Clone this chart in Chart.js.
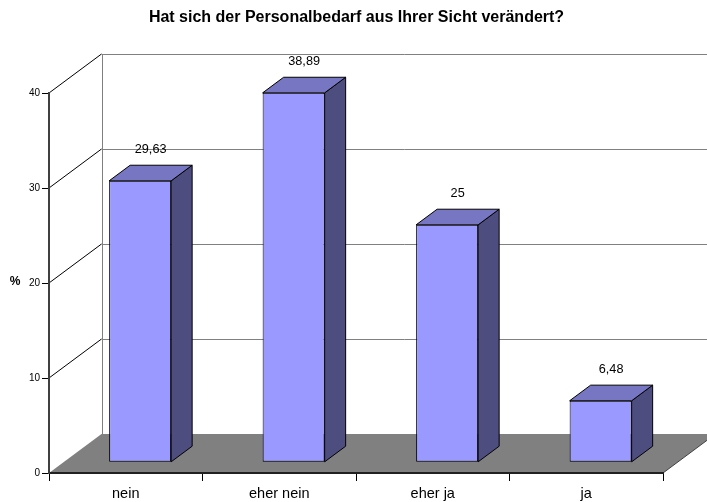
<!DOCTYPE html>
<html>
<head>
<meta charset="utf-8">
<script src="https://cdn.jsdelivr.net/npm/chart.js@4.4.0/dist/chart.umd.min.js"></script>
<style>
  html, body { margin: 0; padding: 0; background: #fff; }
  #wrap { width: 707px; height: 502px; position: relative; }
</style>
</head>
<body>
<div id="wrap"><canvas id="chart"></canvas></div>
<script>
// Daten
const categories = ['nein', 'eher nein', 'eher ja', 'ja'];
const values = [29.63, 38.89, 25, 6.48];
const valueLabels = ['29,63', '38,89', '25', '6,48'];
const yTicks = [0, 10, 20, 30, 40];
const chartTitle = 'Hat sich der Personalbedarf aus Ihrer Sicht verändert?';
const yTitle = '%';

// 3D-Geometrie (Tiefe der Wand, Lage der Säulen in der Tiefe)
const DEPTH_X = 52.5, DEPTH_Y = -39;
const BAR_FRONT = 0.274, BAR_DEPTH = 0.4;
const FONT = 'Arial, "Liberation Sans", sans-serif';

const scene3d = {
  id: 'scene3d',
  // Boden und Rückwand vor den Achsen zeichnen
  beforeDraw(chart) {
    const { ctx, chartArea: a, scales: { y } } = chart;
    const y0 = y.getPixelForValue(0);
    ctx.save();
    ctx.fillStyle = '#808080';
    ctx.beginPath();
    ctx.moveTo(a.left, y0);
    ctx.lineTo(a.right, y0);
    ctx.lineTo(a.right + DEPTH_X, y0 + DEPTH_Y);
    ctx.lineTo(a.left + DEPTH_X, y0 + DEPTH_Y);
    ctx.closePath();
    ctx.fill();
    ctx.strokeStyle = '#404040';
    ctx.lineWidth = 1;
    ctx.beginPath();
    ctx.moveTo(a.right, y0);
    ctx.lineTo(a.right + DEPTH_X, y0 + DEPTH_Y);
    ctx.stroke();

    // Rückwand: senkrechte Linie links
    const yTop = y.getPixelForValue(yTicks[yTicks.length - 1]);
    ctx.strokeStyle = '#808080';
    ctx.beginPath();
    ctx.moveTo(Math.round(a.left + DEPTH_X) + 0.5, yTop + DEPTH_Y);
    ctx.lineTo(Math.round(a.left + DEPTH_X) + 0.5, y0 + DEPTH_Y);
    ctx.stroke();

    // Gitterlinien: schräg an der Seitenwand, waagerecht an der Rückwand
    yTicks.forEach(v => {
      if (v === 0) return;
      const py = y.getPixelForValue(v);
      ctx.strokeStyle = '#000';
      ctx.beginPath();
      ctx.moveTo(a.left, py);
      ctx.lineTo(a.left + DEPTH_X, py + DEPTH_Y);
      ctx.stroke();
      ctx.strokeStyle = '#808080';
      ctx.beginPath();
      ctx.moveTo(a.left + DEPTH_X, Math.round(py + DEPTH_Y) + 0.5);
      ctx.lineTo(chart.width, Math.round(py + DEPTH_Y) + 0.5);
      ctx.stroke();
    });
    ctx.restore();
  },
  // Säulen nach hinten versetzen
  beforeDatasetsDraw(chart) {
    chart.ctx.save();
    chart.ctx.translate(BAR_FRONT * DEPTH_X, BAR_FRONT * DEPTH_Y);
  },
  afterDatasetsDraw(chart) {
    const ctx = chart.ctx;
    const dx = BAR_DEPTH * DEPTH_X, dy = BAR_DEPTH * DEPTH_Y;
    const meta = chart.getDatasetMeta(0);
    ctx.lineWidth = 1;
    ctx.strokeStyle = '#000';
    ctx.lineJoin = 'round';
    meta.data.forEach(el => {
      const { x, y, base, width } = el.getProps(['x', 'y', 'base', 'width'], true);
      const l = x - width / 2, r = x + width / 2;
      // Seite
      ctx.fillStyle = '#4d4d80';
      ctx.beginPath();
      ctx.moveTo(r, y);
      ctx.lineTo(r + dx, y + dy);
      ctx.lineTo(r + dx, base + dy);
      ctx.lineTo(r, base);
      ctx.closePath();
      ctx.fill();
      ctx.stroke();
      // Deckel
      ctx.fillStyle = '#7676c2';
      ctx.beginPath();
      ctx.moveTo(l, y);
      ctx.lineTo(l + dx, y + dy);
      ctx.lineTo(r + dx, y + dy);
      ctx.lineTo(r, y);
      ctx.closePath();
      ctx.fill();
      ctx.stroke();
    });
    ctx.restore();

    // Datenbeschriftungen
    ctx.save();
    ctx.fillStyle = '#000';
    ctx.font = '12.7px ' + FONT;
    ctx.textAlign = 'center';
    ctx.textBaseline = 'alphabetic';
    meta.data.forEach((el, i) => {
      const lx = el.x + BAR_FRONT * DEPTH_X + dx / 2;
      const ly = el.y + BAR_FRONT * DEPTH_Y + dy - 12;
      ctx.fillText(valueLabels[i], lx, ly);
    });
    ctx.restore();
  },
  afterDraw(chart) {
    const ctx = chart.ctx;
    ctx.save();
    ctx.fillStyle = '#000';
    ctx.textAlign = 'center';
    ctx.textBaseline = 'alphabetic';
    ctx.font = 'bold 16px ' + FONT;
    ctx.fillText(chartTitle, 356.5, 21.7);
    ctx.font = 'bold 12px ' + FONT;
    ctx.textBaseline = 'middle';
    ctx.fillText(yTitle, 15, 282);
    ctx.restore();
  }
};

new Chart(document.getElementById('chart'), {
  type: 'bar',
  data: {
    labels: categories,
    datasets: [{
      data: values,
      backgroundColor: '#9999ff',
      borderColor: '#000',
      borderWidth: 1,
      borderSkipped: false,
      barPercentage: 0.404,
      categoryPercentage: 1,
      clip: false
    }]
  },
  options: {
    responsive: true,
    maintainAspectRatio: false,
    animation: false,
    layout: { padding: { top: 93, right: 44, left: 0, bottom: 0 } },
    plugins: {
      legend: { display: false },
      title: { display: false },
      tooltip: { enabled: false }
    },
    scales: {
      x: {
        grid: { drawOnChartArea: false, drawTicks: true, tickLength: 8, color: '#000', offset: true },
        border: { display: true, color: '#202020', width: 2 },
        ticks: { color: '#000', font: { family: FONT, size: 14.5 }, padding: 4, maxRotation: 0 },
        afterFit(scale) { scale.height = 29; }
      },
      y: {
        min: 0,
        max: 40,
        afterBuildTicks(scale) { scale.ticks = yTicks.map(v => ({ value: v })); },
        grid: { drawOnChartArea: false, drawTicks: true, tickLength: 7, color: '#000' },
        border: { display: true, color: '#404040', width: 2 },
        ticks: { color: '#000', font: { family: FONT, size: 10 }, padding: 2 },
        afterFit(scale) { scale.width = 49; }
      }
    }
  },
  plugins: [scene3d]
});
</script>
</body>
</html>
